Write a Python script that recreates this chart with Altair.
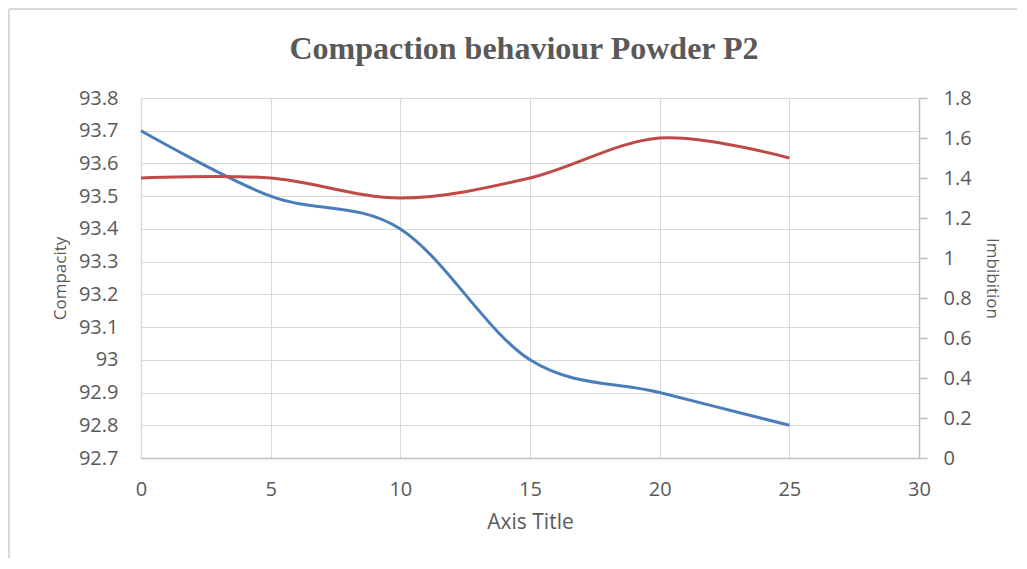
import altair as alt
import pandas as pd

x_vals = [0, 5, 10, 15, 20, 25]
compacity = [93.7, 93.5, 93.4, 93.0, 92.9, 92.8]
imbibition = [1.4, 1.4, 1.3, 1.4, 1.6, 1.5]

left_ticks = [92.7, 92.8, 92.9, 93.0, 93.1, 93.2, 93.3, 93.4, 93.5, 93.6, 93.7, 93.8]
right_ticks = [0, 0.2, 0.4, 0.6, 0.8, 1.0, 1.2, 1.4, 1.6, 1.8]
x_ticks = [0, 5, 10, 15, 20, 25, 30]
chart_title = "Compaction behaviour Powder P2"

df = pd.DataFrame({"x": x_vals, "compacity": compacity, "imbibition": imbibition})

FONT = "Open Sans"
GREY = "#595959"

xenc = alt.X("x:Q", scale=alt.Scale(domain=[0, 30], nice=False),
             axis=alt.Axis(title="Axis Title", values=x_ticks, grid=True, ticks=False, labelFlush=False,
                           gridColor="#d9d9d9", domainColor="#bfbfbf", domainWidth=1.5,
                           labelPadding=21, titlePadding=12,
                           labelFontSize=20, titleFontSize=21, labelColor=GREY, titleColor=GREY,
                           labelFont=FONT, titleFont=FONT, titleFontWeight="normal"))

blue = alt.Chart(df).mark_line(color="#4a7ebb", strokeWidth=3, interpolate="cardinal").encode(
    x=xenc,
    y=alt.Y("compacity:Q", scale=alt.Scale(domain=[92.7, 93.8], nice=False, zero=False),
            axis=alt.Axis(title="Compacity", values=left_ticks, format="~g", grid=True, ticks=False,
                          labelFlush=False,
                          gridColor="#d9d9d9", domainColor="#d9d9d9", domainWidth=1.5,
                          labelPadding=23, titlePadding=9,
                          labelFontSize=20, titleFontSize=17, labelColor=GREY, titleColor=GREY,
                          labelFont=FONT, titleFont=FONT, titleFontWeight="normal")),
)

red = alt.Chart(df).mark_line(color="#be4b48", strokeWidth=3, interpolate="cardinal").encode(
    x=alt.X("x:Q", scale=alt.Scale(domain=[0, 30], nice=False)),
    y=alt.Y("imbibition:Q", scale=alt.Scale(domain=[0, 1.8], nice=False),
            axis=alt.Axis(title="Imbibition", orient="right", values=right_ticks, format="~g",
                          labelFlush=False,
                          grid=False, ticks=True, tickSize=8, tickColor="#bfbfbf", tickWidth=1.5,
                          domainColor="#bfbfbf", domainWidth=1.5,
                          labelPadding=16, titlePadding=11,
                          labelFontSize=20, titleFontSize=17, labelColor=GREY, titleColor=GREY,
                          labelFont=FONT, titleFont=FONT, titleFontWeight="normal")),
)

border_left = alt.Chart(df).mark_rule(color="#d9d9d9", strokeWidth=1.5).encode(
    x=alt.value(-132), y=alt.value(-89), y2=alt.value(480))
border_top = alt.Chart(df).mark_rule(color="#d9d9d9", strokeWidth=1.5).encode(
    x=alt.value(-132), x2=alt.value(880), y=alt.value(-89))

title_text = alt.Chart(df.head(1)).mark_text(
    font="Liberation Serif", fontSize=32, fontWeight="bold", color=GREY,
    align="center", baseline="alphabetic").encode(
    x=alt.value(383), y=alt.value(-39), text=alt.value(chart_title))

chart = alt.layer(border_left, border_top, title_text, blue, red).resolve_scale(y="independent").properties(
    width=778, height=360,
    autosize=alt.AutoSizeParams(type="none"),
    padding={"left": 133, "top": 90, "right": 98, "bottom": 100},
).configure_view(stroke=None)

chart.save("out.html", embed_options={"renderer": "svg", "actions": False})
